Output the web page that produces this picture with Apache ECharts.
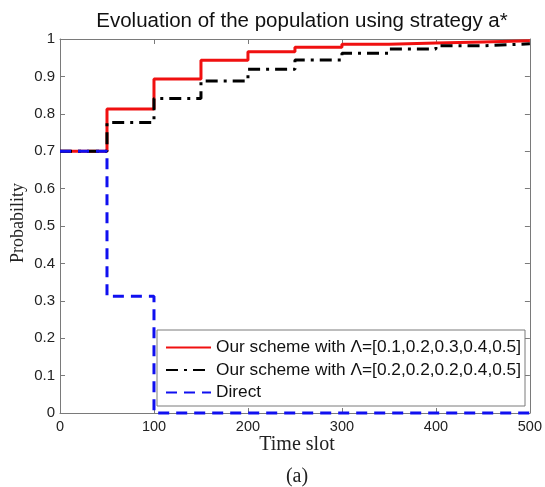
<!DOCTYPE html>
<html>
<head>
<meta charset="utf-8">
<script src="https://cdn.jsdelivr.net/npm/echarts@6/dist/echarts.min.js"></script>
<style>
  html, body { margin: 0; padding: 0; background: #fff; }
  #chart { width: 545px; height: 487px; }
</style>
</head>
<body>
<div id="chart"></div>
<script>
// Time slots at which each curve changes level (value holds until the next slot)
var slotsScheme = [0, 50, 100, 150, 200, 250, 300, 350, 400, 450, 500];
var schemeA = [0.70, 0.813, 0.893, 0.943, 0.966, 0.978, 0.986, 0.989, 0.992, 0.995, 0.995];
var schemeB = [0.70, 0.777, 0.841, 0.888, 0.919, 0.944, 0.962, 0.973, 0.982, 0.987, 0.987];
var slotsDirect = [0, 50, 100, 500];
var direct = [0.70, 0.312, 0, 0];

var seriesNames = [
  'Our scheme with \u039B=[0.1,0.2,0.3,0.4,0.5]',
  'Our scheme with \u039B=[0.2,0.2,0.2,0.4,0.5]',
  'Direct'
];
var xTicks = [0, 100, 200, 300, 400, 500];
var yTicks = [0, 0.1, 0.2, 0.3, 0.4, 0.5, 0.6, 0.7, 0.8, 0.9, 1];

function pairs(xs, ys) {
  return xs.map(function (x, i) { return [x, ys[i]]; });
}

var axisGray = '#7a7a7a';
var sans = 'Liberation Sans, Arial, sans-serif';
var serif = 'Liberation Serif, Times New Roman, serif';

var chart = echarts.init(document.getElementById('chart'), null, { renderer: 'canvas' });

var baseX = {
  type: 'value', min: 0, max: 500, interval: 100,
  axisLine: { show: true, onZero: false, lineStyle: { color: axisGray, width: 1 } },
  axisTick: { show: true, inside: true, length: 5, lineStyle: { color: axisGray } },
  splitLine: { show: false }
};
var baseY = {
  type: 'value', min: 0, max: 1, interval: 0.1,
  axisLine: { show: true, onZero: false, lineStyle: { color: axisGray, width: 1 } },
  axisTick: { show: true, inside: true, length: 5, lineStyle: { color: axisGray } },
  splitLine: { show: false }
};

chart.setOption({
  animation: false,
  backgroundColor: '#fff',
  title: {
    text: 'Evoluation of the population using strategy a*',
    left: 297, top: 6, textAlign: 'center',
    textStyle: { fontFamily: sans, fontSize: 20.5, fontWeight: 'normal', color: '#111' }
  },
  grid: { left: 60, right: 12, top: 39, bottom: 74 },
  xAxis: [
    Object.assign({}, baseX, {
      position: 'bottom',
      axisLabel: {
        show: true, margin: 6, fontFamily: sans, fontSize: 14.5, color: '#222',
        formatter: function (v) { return xTicks.indexOf(v) >= 0 ? String(v) : ''; }
      }
    }),
    Object.assign({}, baseX, { position: 'top', axisLabel: { show: false } })
  ],
  yAxis: [
    Object.assign({}, baseY, {
      position: 'left',
      axisLabel: {
        show: true, margin: 5, fontFamily: sans, fontSize: 15, color: '#222',
        formatter: function (v) {
          var r = Math.round(v * 10) / 10;
          return yTicks.indexOf(r) >= 0 ? String(r) : '';
        }
      }
    }),
    Object.assign({}, baseY, { position: 'right', axisLabel: { show: false } })
  ],
  legend: {
    orient: 'vertical',
    left: 157, top: 330,
    padding: [9, 4, 5, 8],
    itemWidth: 45, itemHeight: 14, itemGap: 5.5,
    backgroundColor: '#fff',
    borderColor: axisGray, borderWidth: 1,
    itemStyle: { color: 'rgba(0,0,0,0)', borderWidth: 0, opacity: 0 },
    textStyle: { fontFamily: sans, fontSize: 17.3, color: '#111' },
    data: seriesNames
  },
  graphic: [
    {
      type: 'text', x: 18, y: 223, rotation: Math.PI / 2,
      style: { text: 'Probability', fontFamily: serif, fontSize: 18, fill: '#222',
               textAlign: 'center', textVerticalAlign: 'middle' }
    },
    {
      type: 'text', x: 297, y: 445,
      style: { text: 'Time slot', fontFamily: serif, fontSize: 20, fill: '#222',
               textAlign: 'center', textVerticalAlign: 'middle' }
    },
    {
      type: 'text', x: 297, y: 477,
      style: { text: '(a)', fontFamily: serif, fontSize: 20, fill: '#222',
               textAlign: 'center', textVerticalAlign: 'middle' }
    }
  ],
  series: [
    {
      name: seriesNames[0], type: 'line', step: 'end', showSymbol: false, symbol: 'none',
      clip: false,
      data: pairs(slotsScheme, schemeA),
      lineStyle: { color: '#f01010', width: 3, type: 'solid' },
      itemStyle: { color: '#f01010' }
    },
    {
      name: seriesNames[1], type: 'line', step: 'end', showSymbol: false, symbol: 'none',
      clip: false,
      data: pairs(slotsScheme, schemeB),
      lineStyle: { color: '#000', width: 3, type: [12, 6, 3, 6] },
      itemStyle: { color: '#000' }
    },
    {
      name: seriesNames[2], type: 'line', step: 'end', showSymbol: false, symbol: 'none',
      clip: false,
      data: pairs(slotsDirect, direct),
      lineStyle: { color: '#1010f0', width: 3, type: [11, 7] },
      itemStyle: { color: '#1010f0' }
    }
  ]
});
</script>
</body>
</html>
